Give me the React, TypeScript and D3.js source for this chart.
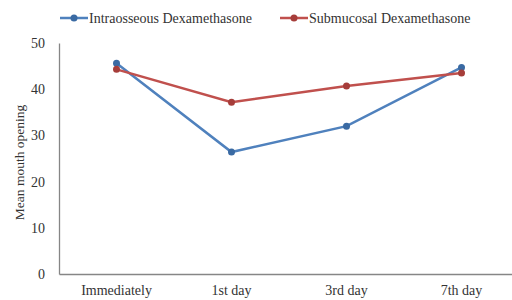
import { useRef, useEffect } from 'react'
import * as d3 from 'd3'

const categories = ['Immediately', '1st day', '3rd day', '7th day']
const intraosseous = [45.6, 26.4, 32.0, 44.7]
const submucosal = [44.3, 37.2, 40.7, 43.5]
const yTicks = [0, 10, 20, 30, 40, 50]
const seriesNames = ['Intraosseous Dexamethasone', 'Submucosal Dexamethasone']
const colors = ['#4f81bd', '#c0504d']
const markerColors = ['#3a6aa3', '#a63d3a']

const App = () => {
  const svgRef = useRef<SVGSVGElement>(null)

  useEffect(() => {
    const svg = d3.select(svgRef.current)
    svg.selectAll('*').remove()

    const left = 59
    const right = 519
    const top = 43
    const bottom = 274
    const font = 'Liberation Serif, serif'

    const x = d3.scaleBand().domain(categories).range([left, right])
    const y = d3.scaleLinear().domain([0, 50]).range([bottom, top])

    // y axis
    const yAxis = d3.axisLeft(y).tickValues(yTicks).tickSize(0).tickPadding(14)
    const gy = svg.append('g').attr('transform', `translate(${left},0)`).call(yAxis)
    gy.attr('font-family', font)
    gy.select('.domain').attr('stroke', '#868686').attr('stroke-width', 1.3)
    gy.selectAll('text').attr('font-size', 14).attr('fill', '#333')

    // x axis
    const xAxis = d3.axisBottom(x).tickSize(0).tickPadding(11)
    const gx = svg.append('g').attr('transform', `translate(0,${bottom})`).call(xAxis)
    gx.attr('font-family', font)
    gx.select('.domain').attr('stroke', '#868686').attr('stroke-width', 1.3)
    gx.selectAll('text').attr('font-size', 14).attr('fill', '#333')

    // y label
    svg.append('text')
      .attr('transform', `translate(24,${(top + bottom) / 2 + 4}) rotate(-90)`)
      .attr('text-anchor', 'middle')
      .attr('font-family', font)
      .attr('font-size', 13.5)
      .attr('fill', '#333')
      .text('Mean mouth opening')

    const cx = (c: string) => (x(c) as number) + x.bandwidth() / 2
    const line = d3.line<number>()
      .x((d, i) => cx(categories[i]))
      .y(d => y(d))

    const series = [intraosseous, submucosal]
    series.forEach((s, k) => {
      svg.append('path')
        .attr('d', line(s))
        .attr('fill', 'none')
        .attr('stroke', colors[k])
        .attr('stroke-width', 2.5)
      svg.selectAll(`.pt${k}`)
        .data(s)
        .join('circle')
        .attr('class', `pt${k}`)
        .attr('cx', (d, i) => cx(categories[i]))
        .attr('cy', d => y(d))
        .attr('r', 3.5)
        .attr('fill', markerColors[k])
    })

    // legend
    const legendX = [60, 280]
    seriesNames.forEach((name, k) => {
      const g = svg.append('g').attr('transform', `translate(${legendX[k]},18)`)
      g.append('line').attr('x1', 0).attr('x2', 28).attr('y1', 0).attr('y2', 0)
        .attr('stroke', colors[k]).attr('stroke-width', 2.5)
      g.append('circle').attr('cx', 14).attr('cy', 0).attr('r', 3.5).attr('fill', markerColors[k])
      g.append('text').attr('x', 29).attr('y', 5)
        .attr('font-family', font).attr('font-size', 14).attr('fill', '#333')
        .text(name)
    })
  }, [])

  return (
    <svg ref={svgRef} width={512} height={300}
      style={{ position: 'absolute', left: 0, top: 0, background: '#fff' }} />
  )
}

export default App
